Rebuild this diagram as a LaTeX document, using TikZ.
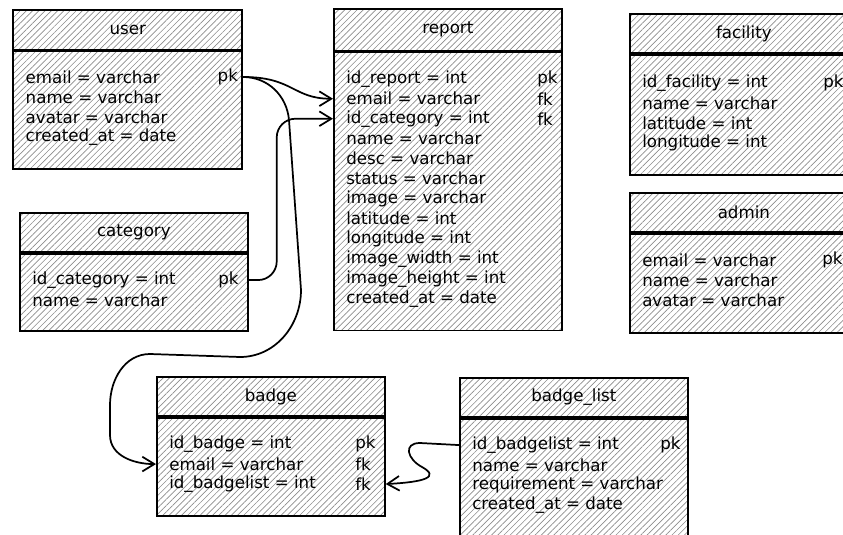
\documentclass[tikz,border=0pt]{standalone}
\usepackage{fontspec}
\setmainfont{DejaVu Sans}
\usetikzlibrary{arrows.meta, positioning, patterns.meta}
\tikzset{%
	tblhead/.style={draw, rectangle, line width=1.3pt, anchor=north west,%
		minimum width=171pt, minimum height=29.5pt, inner sep=0pt,%
		pattern={Lines[angle=45, distance=3.3pt, line width=0.5pt]}, pattern color=black!45,%
		font=\fontsize{12.5}{15}\selectfont},
	tblbody/.style={tblhead, below=0pt of #1},
	fld/.style={anchor=west, inner sep=0pt, font=\fontsize{12.5}{15}\selectfont},
	rel/.style={line width=1.3pt, line cap=round, -{Straight Barb[length=9pt, width=11pt, line width=1.3pt]}}
}
\begin{document}
\begin{tikzpicture}[x=0.75pt, y=-0.75pt]
	\useasboundingbox (0,0) rectangle (843,535);
	\clip (0,0) rectangle (843,535);

	% user
	\node[tblhead, minimum width=171.75pt] (user) at (13,10) {user};
	\node[tblbody=user, minimum width=171.75pt, minimum height=88.5pt] (user-b) {};
	\foreach \txt [count=\i] in {email = varchar, name = varchar, avatar = varchar, created\_at = date}
		\node[fld] (user-\i) at ([shift={(13,7+20*\i)}]user-b.north west) {\txt};
	\node[fld] (user-k1) at ([shift={(205,27)}]user-b.north west) {pk};

	% report
	\node[tblhead, minimum height=31.5pt] (report) at (333,8) {report};
	\node[tblbody=report, minimum height=208.5pt] (report-b) {};
	\foreach \txt [count=\i] in {id\_report = int, email = varchar, id\_category = int, name = varchar,
		desc = varchar, status = varchar, image = varchar, latitude = int, longitude = int,
		image\_width = int, image\_height = int, created\_at = date}
		\node[fld] (report-\i) at ([shift={(13,7+20*\i)}]report-b.north west) {\txt};
	\foreach \k [count=\i] in {pk, fk, fk}
		\node[fld] (report-k\i) at ([shift={(204,7+20*\i)}]report-b.north west) {\k};

	% facility
	\node[tblhead] (facility) at (629,13) {facility};
	\node[tblbody=facility, minimum height=90pt] (facility-b) {};
	\foreach \txt [count=\i] in {id\_facility = int, name = varchar, latitude = int, longitude = int}
		\node[fld] (facility-\i) at ([shift={(13,9+20*\i)}]facility-b.north west) {\txt};
	\node[fld] (facility-k1) at ([shift={(194,29)}]facility-b.north west) {pk};

	% admin
	\node[tblhead] (admin) at (629,192) {admin};
	\node[tblbody=admin, minimum height=74.25pt] (admin-b) {};
	\foreach \txt [count=\i] in {email = varchar, name = varchar, avatar = varchar}
		\node[fld] (admin-\i) at ([shift={(13,7+20*\i)}]admin-b.north west) {\txt};
	\node[fld] (admin-k1) at ([shift={(193,27)}]admin-b.north west) {pk};

	% category
	\node[tblhead] (category) at (19,212) {category};
	\node[tblbody=category, minimum height=57.75pt] (category-b) {};
	\foreach \txt [count=\i] in {id\_category = int, name = varchar}
		\node[fld] (category-\i) at ([shift={(13,7+20*\i)}]category-b.north west) {\txt};
	\node[fld] (category-k1) at ([shift={(199,27)}]category-b.north west) {pk};

	% badge
	\node[tblhead] (badge) at (156,376) {badge};
	\node[tblbody=badge, minimum height=73.5pt] (badge-b) {};
	\foreach \txt [count=\i] in {id\_badge = int, email = varchar, id\_badgelist = int}
		\node[fld] (badge-\i) at ([shift={(13,7+20*\i)}]badge-b.north west) {\txt};
	\foreach \k [count=\i] in {pk, fk, fk}
		\node[fld] (badge-k\i) at ([shift={(199,7+20*\i)}]badge-b.north west) {\k};

	% badge_list
	\node[tblhead] (blist) at (459,377) {badge\_list};
	\node[tblbody=blist, minimum height=87.75pt] (blist-b) {};
	\foreach \txt [count=\i] in {id\_badgelist = int, name = varchar, requirement = varchar, created\_at = date}
		\node[fld] (blist-\i) at ([shift={(13,7+20*\i)}]blist-b.north west) {\txt};
	\node[fld] (blist-k1) at ([shift={(201,27)}]blist-b.north west) {pk};

	% relations
	\draw[rel] (user-b.east |- user-1) .. controls +(50,0) and +(-40,0) .. (report-b.west |- report-2);
	\draw[rel] (user-b.east |- user-1) to[out=0, in=95] (289,120) -- (301,290)
		to[out=-90, in=0] (240,357) -- (150,354) to[out=180, in=90] (110,405) -- (110,435)
		to[out=-90, in=180] (badge-b.west |- badge-2);
	\draw[rel, rounded corners=14pt] (category-b.east |- category-1) -- ++(28,0) |- (report-b.west |- report-3);
	\draw[rel] (blist-b.west |- blist-1) -- (420,443) .. controls (403,443) and (407,459) .. (422,467)
		.. controls (440,477) and (425,482) .. (badge-b.east |- badge-3);
\end{tikzpicture}
\end{document}
